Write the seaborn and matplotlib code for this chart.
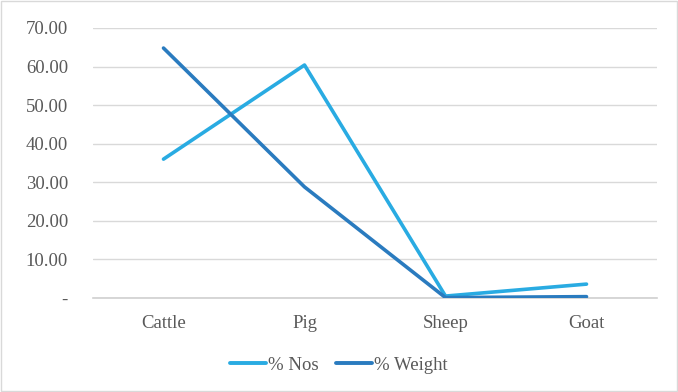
import matplotlib
matplotlib.use("Agg")
import matplotlib.pyplot as plt
import seaborn as sns
import pandas as pd
from matplotlib.patches import Rectangle

categories = ["Cattle", "Pig", "Sheep", "Goat"]
pct_nos = [36.0, 60.4, 0.5, 3.6]
pct_weight = [64.8, 28.8, 0.1, 0.35]
series_names = ["% Nos", "% Weight"]
y_ticks = [0, 10, 20, 30, 40, 50, 60, 70]

df = pd.DataFrame({
    "animal": categories * 2,
    "x": list(range(len(categories))) * 2,
    "value": pct_nos + pct_weight,
    "series": [series_names[0]] * len(categories) + [series_names[1]] * len(categories),
})

sns.set_theme(style="white")
plt.rcParams["font.family"] = ["Liberation Serif", "DejaVu Serif"]

fig = plt.figure(figsize=(6.78, 3.92), dpi=100)
ax = fig.add_axes([93 / 678, 1 - 298 / 392, (657 - 93) / 678, (298 - 28) / 392])

palette = {"% Nos": "#29abe2", "% Weight": "#2a7bbf"}
sns.lineplot(data=df, x="x", y="value", hue="series", palette=palette,
             linewidth=2.6, ax=ax, legend=False, zorder=3)

ax.set_xlim(-0.5, len(categories) - 0.5)
ax.set_ylim(0, 70)
ax.set_xticks(range(len(categories)))
ax.set_xticklabels(categories)
ax.set_yticks(y_ticks)
ax.set_yticklabels(["-" if v == 0 else f"{v:.2f}" for v in y_ticks])
ax.set_xlabel("")
ax.set_ylabel("")
ax.tick_params(axis="both", length=0, labelsize=13.5, labelcolor="#595959")
ax.tick_params(axis="y", pad=18)
ax.tick_params(axis="x", pad=12)
for t in ax.get_yticklabels():
    t.set_horizontalalignment("right")

ax.grid(axis="y", color="#d9d9d9", linewidth=1)
ax.set_axisbelow(True)
for s in ["top", "right", "left"]:
    ax.spines[s].set_visible(False)
ax.spines["bottom"].set_color("#d0d0d0")
ax.spines["bottom"].set_linewidth(1.2)

handles = [plt.Line2D([0], [0], color=palette[n], linewidth=2.8) for n in series_names]
fig.legend(handles, series_names, loc="center", bbox_to_anchor=(0.5, 1 - 365 / 392),
           ncol=2, frameon=False, fontsize=13.5, handlelength=1.9, handletextpad=0.15,
           columnspacing=0.9, labelcolor="#595959")

fig.patches.append(Rectangle((1 / 678, 1 / 392), 676 / 678, 390 / 392, transform=fig.transFigure,
                             fill=False, edgecolor="#d9d9d9", linewidth=1))

fig.savefig("out.png", dpi=100)
